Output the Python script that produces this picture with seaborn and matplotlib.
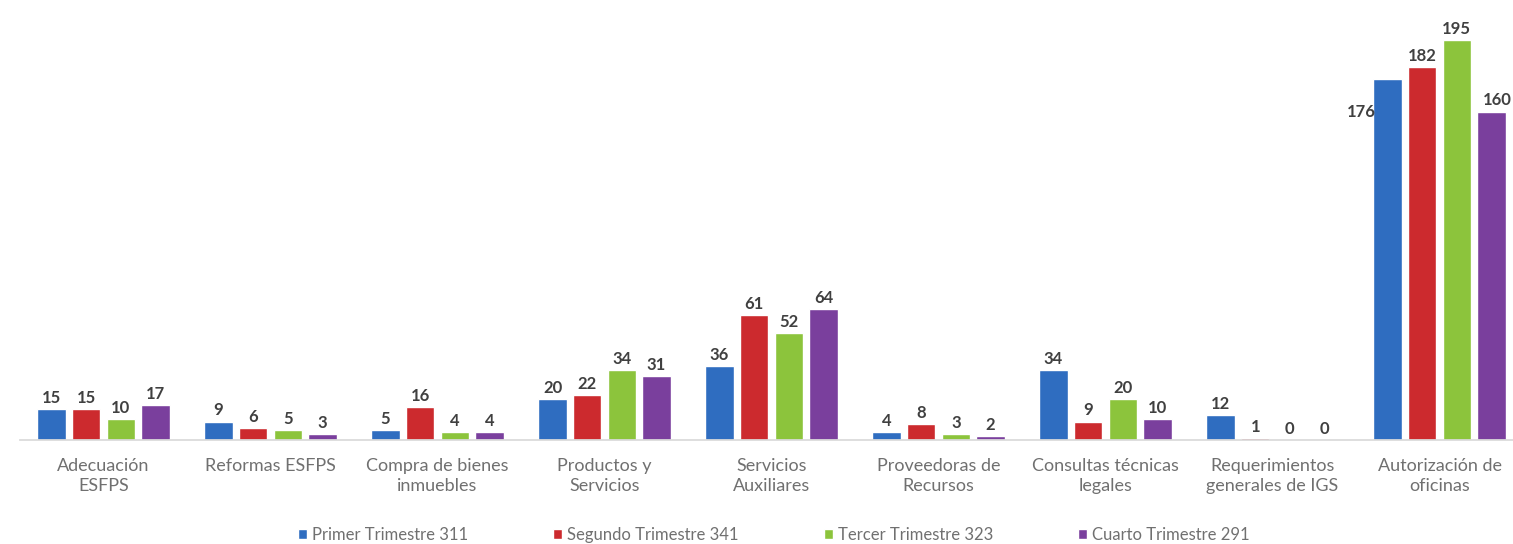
import pandas as pd
import seaborn as sns
import matplotlib.pyplot as plt

# datos por categoria y trimestre
categorias = ["Adecuación\nESFPS", "Reformas ESFPS", "Compra de bienes\ninmuebles",
              "Productos y\nServicios", "Servicios\nAuxiliares", "Proveedoras de\nRecursos",
              "Consultas técnicas\nlegales", "Requerimientos\ngenerales de IGS",
              "Autorización de\noficinas"]
trimestres = ["Primer Trimestre 311", "Segundo Trimestre 341",
              "Tercer Trimestre 323", "Cuarto Trimestre 291"]
primer = [15, 9, 5, 20, 36, 4, 34, 12, 176]
segundo = [15, 6, 16, 22, 61, 8, 9, 1, 182]
tercer = [10, 5, 4, 34, 52, 3, 20, 0, 195]
cuarto = [17, 3, 4, 31, 64, 2, 10, 0, 160]
colores = ["#2f6dc0", "#cc2a2e", "#8cc43c", "#7a3f9d"]

filas = []
for t, serie in zip(trimestres, [primer, segundo, tercer, cuarto]):
    for c, v in zip(categorias, serie):
        filas.append({"categoria": c, "trimestre": t, "valor": v})
df = pd.DataFrame(filas)

sns.set_theme(style="white")
plt.rcParams['font.family'] = ['Lato', 'DejaVu Sans']

fig = plt.figure(figsize=(15.13, 5.44), dpi=100)
ax = fig.add_axes([20 / 1513, 104 / 544, 1493 / 1513, 440 / 544])

sns.barplot(data=df, x="categoria", y="valor", hue="trimestre", palette=colores,
            width=0.83, gap=0.18, ax=ax, saturation=1, legend=True)

ax.set_xlim(-0.5, 8.44)
ax.set_ylim(0, 214.6)

# etiquetas de valores
for cont in ax.containers:
    for barra in cont:
        v = barra.get_height()
        x = barra.get_x() + barra.get_width() / 2
        txt = f"{v:.0f}"
        if v == 176:
            ax.text(barra.get_x() + 2 / 167, v - 16, txt, ha="right", va="center",
                    fontsize=12, fontweight="bold", color="#404040", clip_on=False)
        elif v == 160 and barra.get_x() > 8:
            ax.text(barra.get_x() + 0.035, v + 2, txt, ha="left",
                    va="bottom", fontsize=12, fontweight="bold", color="#404040",
                    clip_on=False)
        else:
            ax.text(x, v + 1.5, txt, ha="center", va="bottom", fontsize=12,
                    fontweight="bold", color="#404040")

sns.despine(ax=ax, left=True, top=True, right=True)
ax.spines["bottom"].set_color("#d9d9d9")
ax.set_yticks([])
ax.set_xlabel("")
ax.set_ylabel("")
ax.tick_params(axis="x", length=0, pad=13, labelsize=13, labelcolor="#707070")
for lab in ax.get_xticklabels():
    lab.set_linespacing(1.3)

ax.legend(loc="center", bbox_to_anchor=(0.505, -0.216), ncol=4, frameon=False,
          fontsize=12, labelcolor="#707070", handlelength=0.55, handleheight=0.55,
          handletextpad=0.3, columnspacing=5.1)

fig.savefig("out.png", dpi=100)
